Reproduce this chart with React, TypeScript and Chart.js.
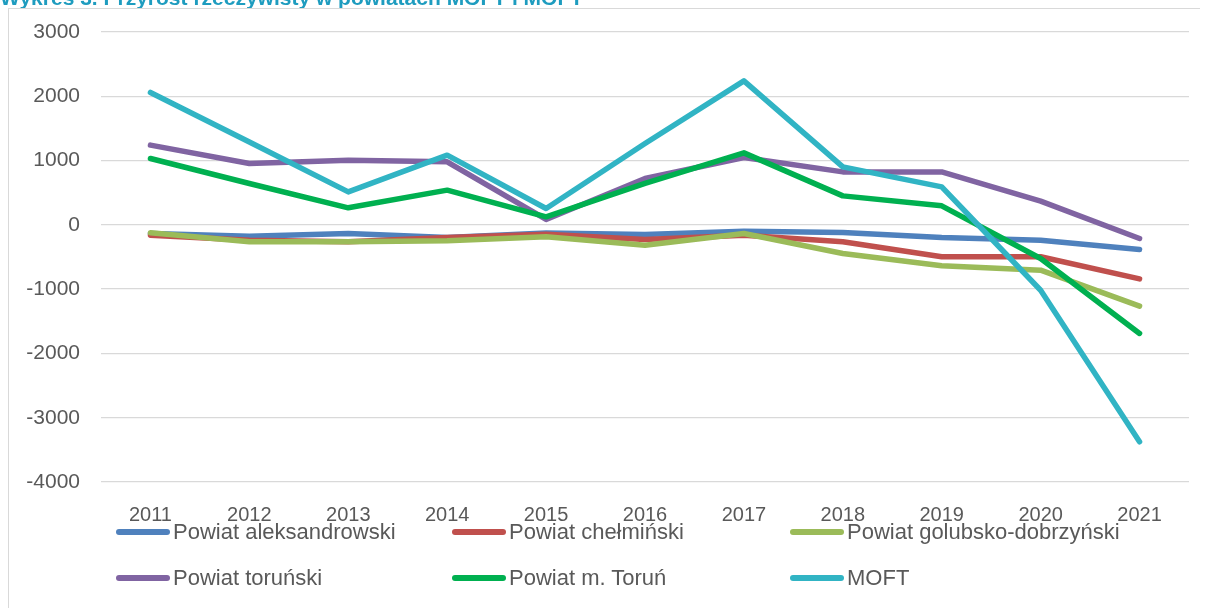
import React, { useEffect, useRef } from "react";
import { Chart, registerables } from "chart.js";

Chart.register(...registerables);

const years = ["2011", "2012", "2013", "2014", "2015", "2016", "2017", "2018", "2019", "2020", "2021"];

const aleksandrowski = [-134, -176, -134, -196, -125, -150, -98, -119, -197, -238, -383];
const chelminski = [-160, -238, -264, -196, -145, -227, -160, -264, -497, -497, -840];
const golubsko = [-124, -264, -264, -249, -186, -316, -134, -445, -637, -705, -1264];
const torunski = [1240, 955, 1006, 980, 84, 722, 1048, 824, 824, 370, -212];
const torun = [1032, 643, 265, 540, 125, 644, 1120, 451, 296, -523, -1689];
const moft = [2060, 1290, 513, 1084, 255, 1266, 2240, 902, 591, -1017, -3375];

const seriesNames = [
  "Powiat aleksandrowski",
  "Powiat chełmiński",
  "Powiat golubsko-dobrzyński",
  "Powiat toruński",
  "Powiat m. Toruń",
  "MOFT",
];
const seriesColors = ["#4f81bd", "#c0504d", "#9bbb59", "#8064a2", "#00b050", "#31b4c4"];
const seriesValues = [aleksandrowski, chelminski, golubsko, torunski, torun, moft];

const yTicks = [3000, 2000, 1000, 0, -1000, -2000, -3000, -4000];

const FONT = "'Liberation Sans', Arial, sans-serif";
const TEXT = "#595959";

export default function App() {
  const ref = useRef<HTMLCanvasElement | null>(null);

  useEffect(() => {
    if (!ref.current) return;
    const chart = new Chart(ref.current, {
      type: "line",
      data: {
        labels: years,
        datasets: seriesValues.map((vals, i) => ({
          label: seriesNames[i],
          data: vals,
          borderColor: seriesColors[i],
          backgroundColor: seriesColors[i],
          borderWidth: 5.5,
          borderCapStyle: "round" as const,
          borderJoinStyle: "round" as const,
          pointRadius: 0,
          pointHoverRadius: 0,
          tension: 0,
          fill: false,
          order: seriesValues.length - i,
        })),
      },
      options: {
        animation: false,
        responsive: false,
        maintainAspectRatio: false,
        events: [],
        layout: { padding: { left: 0, top: 23, right: 19, bottom: 0 } },
        plugins: {
          legend: { display: false },
          tooltip: { enabled: false },
          title: { display: false },
        },
        scales: {
          x: {
            type: "category",
            offset: true,
            grid: { display: false, drawTicks: false },
            border: { display: false },
            ticks: {
              color: TEXT,
              font: { family: FONT, size: 20 },
              padding: 21,
              maxRotation: 0,
              autoSkip: false,
            },
            afterFit: (s: any) => {
              s.height = 126;
              s.paddingLeft = 0;
              s.paddingRight = 0;
            },
          },
          y: {
            min: -4000,
            max: 3000,
            afterBuildTicks: (s: any) => {
              s.ticks = yTicks.map((v) => ({ value: v }));
            },
            grid: { color: "#d9d9d9", lineWidth: 1.3, drawTicks: false },
            border: { display: false },
            ticks: {
              color: TEXT,
              font: { family: FONT, size: 21 },
              padding: 21,
              callback: (v: any) => String(v),
            },
            afterFit: (s: any) => {
              s.width = 92;
              s.paddingTop = 0;
              s.paddingBottom = 0;
            },
          },
        },
      },
    });
    return () => chart.destroy();
  }, []);

  const legendRows = [
    [0, 1, 2],
    [3, 4, 5],
  ];
  const colX = [107, 443, 781];
  const rowY = [523, 569];

  return (
    <>
      <div
        style={{
          position: "fixed",
          left: 0,
          top: -13,
          fontFamily: FONT,
          fontWeight: "bold",
          fontSize: 21,
          lineHeight: "22px",
          color: "#1e9cbf",
          whiteSpace: "nowrap",
          zIndex: 0,
        }}
      >
        Wykres 3. Przyrost rzeczywisty w powiatach MOFT i MOFT
      </div>
      <div
        style={{
          position: "relative",
          width: 1199,
          height: 599,
          borderLeft: "1px solid #d9d9d9",
          borderTop: "1px solid #d9d9d9",
          background: "#fff",
          zIndex: 1,
        }}
      >
        <canvas
          ref={ref}
          width={1199}
          height={599}
          style={{ position: "absolute", left: 0, top: 0, width: 1199, height: 599 }}
        />
        {legendRows.map((row, r) =>
          row.map((idx, c) => (
            <div
              key={idx}
              style={{
                position: "absolute",
                left: colX[c],
                top: rowY[r] - 12,
                height: 24,
                display: "flex",
                alignItems: "center",
                fontFamily: FONT,
                fontSize: 22,
                color: TEXT,
                whiteSpace: "nowrap",
              }}
            >
              <span
                style={{
                  display: "inline-block",
                  width: 54,
                  height: 6,
                  borderRadius: 3,
                  background: seriesColors[idx],
                  marginRight: 3,
                }}
              />
              <span>{seriesNames[idx]}</span>
            </div>
          ))
        )}
      </div>
    </>
  );
}
